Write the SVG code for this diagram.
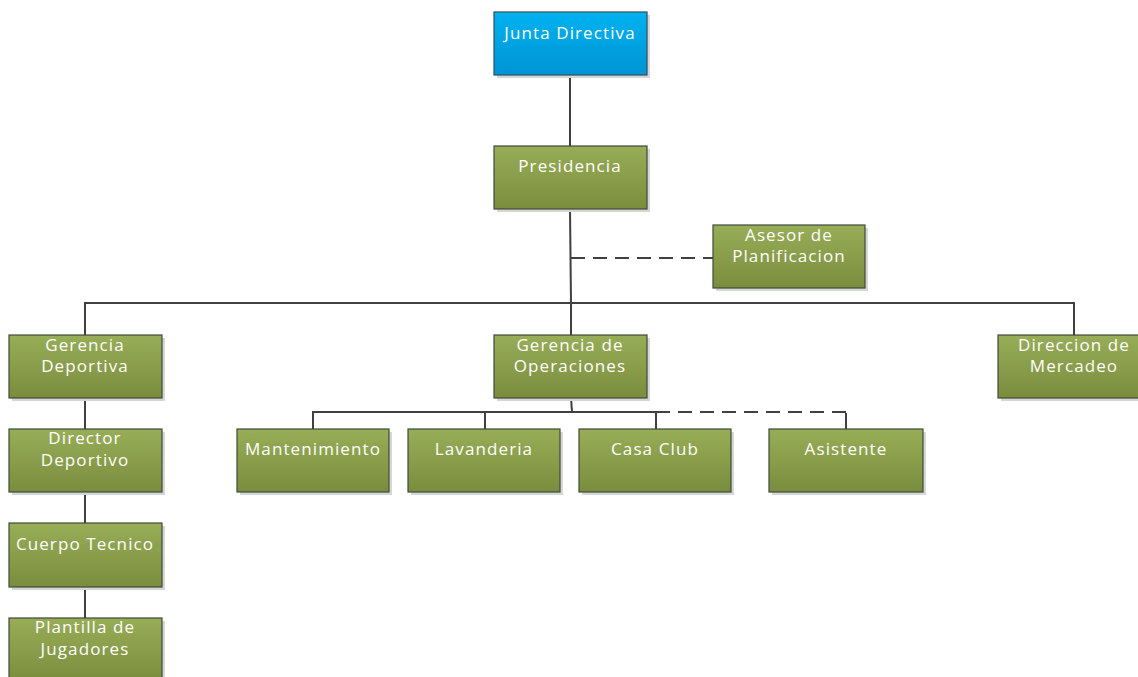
<svg xmlns="http://www.w3.org/2000/svg" width="1138" height="677" viewBox="0 0 1138 677">
  <defs>
    <linearGradient id="green" x1="0" y1="0" x2="0" y2="1">
      <stop offset="0" stop-color="#98ad57"/>
      <stop offset="1" stop-color="#7a8d3e"/>
    </linearGradient>
    <linearGradient id="blue" x1="0" y1="0" x2="0" y2="1">
      <stop offset="0" stop-color="#00b2f0"/>
      <stop offset="1" stop-color="#0094d4"/>
    </linearGradient>
    <style>
      .shadow { fill: #d6d6d6; }
      .box { fill: url(#green); stroke: #3f4a3a; stroke-width: 1.2; }
      .top { fill: url(#blue); stroke: #2f4f5f; stroke-width: 1.2; }
      .lbl { font-family: "Open Sans", "Noto Sans", sans-serif; font-size: 17px; letter-spacing: 1.1px; fill: #ffffff; text-anchor: middle; }
      .line { stroke: #404040; stroke-width: 2; fill: none; }
      .dash { stroke: #404040; stroke-width: 2; fill: none; stroke-dasharray: 14 8; }
    </style>
  </defs>
  <rect width="1138" height="677" fill="#ffffff"/>

  <!-- connectors -->
  <g id="connectors">
    <path class="line" d="M570 75 V146"/>
    <path class="line" d="M570 209 L571 303"/>
    <path class="dash" d="M571 258 H713"/>
    <path class="line" d="M85 335 V303 H1074 V335"/>
    <path class="line" d="M571 303 V335"/>
    <path class="line" d="M571 398 L572 412"/>
    <path class="line" d="M313 429 V412 H656 V429"/>
    <path class="line" d="M485 412 V429"/>
    <path class="dash" d="M656 412 H846"/>
    <path class="line" d="M846 413 V429"/>
    <path class="line" d="M85 398 V429"/>
    <path class="line" d="M85 492 V523"/>
    <path class="line" d="M85 587 V618"/>
  </g>

  <g id="junta-directiva">
    <rect class="shadow" x="497" y="15" width="153" height="63"/>
    <rect class="top" x="494" y="12" width="153" height="63"/>
    <text class="lbl" x="570" y="39">Junta Directiva</text>
  </g>

  <g id="presidencia">
    <rect class="shadow" x="497" y="149" width="153" height="63"/>
    <rect class="box" x="494" y="146" width="153" height="63"/>
    <text class="lbl" x="570" y="172">Presidencia</text>
  </g>

  <g id="asesor-planificacion">
    <rect class="shadow" x="716" y="228" width="152" height="63"/>
    <rect class="box" x="713" y="225" width="152" height="63"/>
    <text class="lbl" x="789" y="241">Asesor de</text>
    <text class="lbl" x="789" y="262">Planificacion</text>
  </g>

  <g id="gerencia-deportiva">
    <rect class="shadow" x="12" y="338" width="153" height="63"/>
    <rect class="box" x="9" y="335" width="153" height="63"/>
    <text class="lbl" x="85" y="351">Gerencia</text>
    <text class="lbl" x="85" y="372">Deportiva</text>
  </g>

  <g id="gerencia-operaciones">
    <rect class="shadow" x="497" y="338" width="153" height="63"/>
    <rect class="box" x="494" y="335" width="153" height="63"/>
    <text class="lbl" x="570" y="351">Gerencia de</text>
    <text class="lbl" x="570" y="372">Operaciones</text>
  </g>

  <g id="direccion-mercadeo">
    <rect class="shadow" x="1001" y="338" width="153" height="63"/>
    <rect class="box" x="998" y="335" width="153" height="63"/>
    <text class="lbl" x="1074" y="351">Direccion de</text>
    <text class="lbl" x="1074" y="372">Mercadeo</text>
  </g>

  <g id="director-deportivo">
    <rect class="shadow" x="12" y="432" width="153" height="63"/>
    <rect class="box" x="9" y="429" width="153" height="63"/>
    <text class="lbl" x="85" y="444">Director</text>
    <text class="lbl" x="85" y="466">Deportivo</text>
  </g>

  <g id="mantenimiento">
    <rect class="shadow" x="240" y="432" width="152" height="63"/>
    <rect class="box" x="237" y="429" width="152" height="63"/>
    <text class="lbl" x="313" y="455">Mantenimiento</text>
  </g>

  <g id="lavanderia">
    <rect class="shadow" x="411" y="432" width="152" height="63"/>
    <rect class="box" x="408" y="429" width="152" height="63"/>
    <text class="lbl" x="484" y="455">Lavanderia</text>
  </g>

  <g id="casa-club">
    <rect class="shadow" x="582" y="432" width="152" height="63"/>
    <rect class="box" x="579" y="429" width="152" height="63"/>
    <text class="lbl" x="655" y="455">Casa Club</text>
  </g>

  <g id="asistente">
    <rect class="shadow" x="772" y="432" width="154" height="63"/>
    <rect class="box" x="769" y="429" width="154" height="63"/>
    <text class="lbl" x="846" y="455">Asistente</text>
  </g>

  <g id="cuerpo-tecnico">
    <rect class="shadow" x="12" y="526" width="153" height="64"/>
    <rect class="box" x="9" y="523" width="153" height="64"/>
    <text class="lbl" x="85" y="550">Cuerpo Tecnico</text>
  </g>

  <g id="plantilla-jugadores">
    <rect class="shadow" x="12" y="621" width="153" height="63"/>
    <rect class="box" x="9" y="618" width="153" height="63"/>
    <text class="lbl" x="85" y="633">Plantilla de</text>
    <text class="lbl" x="85" y="655">Jugadores</text>
  </g>
</svg>
